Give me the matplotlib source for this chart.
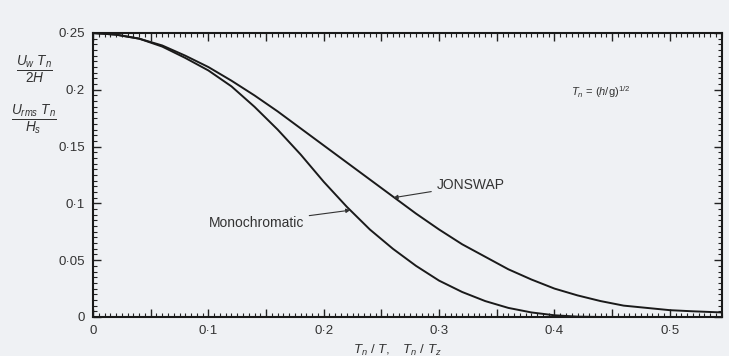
from matplotlib import pyplot as plt
from matplotlib.ticker import MultipleLocator, FuncFormatter

plt.rcParams['font.family'] = ['Liberation Sans', 'DejaVu Sans']
plt.rcParams['mathtext.fontset'] = 'custom'
plt.rcParams['mathtext.rm'] = 'Liberation Sans'
plt.rcParams['mathtext.it'] = 'Liberation Sans:italic'

# curves
mono_x = [0, 0.02, 0.04, 0.06, 0.08, 0.10, 0.12, 0.14, 0.16, 0.18, 0.20, 0.22,
          0.24, 0.26, 0.28, 0.30, 0.32, 0.34, 0.36, 0.38, 0.40, 0.42, 0.44, 0.545]
mono_y = [0.25, 0.2485, 0.245, 0.238, 0.228, 0.217, 0.203, 0.185, 0.165, 0.143,
          0.119, 0.097, 0.077, 0.060, 0.045, 0.032, 0.022, 0.014, 0.008, 0.004,
          0.0015, 0.0003, 0.0, 0.0]

jon_x = [0, 0.02, 0.04, 0.06, 0.08, 0.10, 0.12, 0.14, 0.16, 0.18, 0.20, 0.22,
         0.24, 0.26, 0.28, 0.30, 0.32, 0.34, 0.36, 0.38, 0.40, 0.42, 0.44, 0.46,
         0.48, 0.50, 0.52, 0.545]
jon_y = [0.25, 0.2485, 0.245, 0.239, 0.230, 0.220, 0.208, 0.195, 0.181, 0.166,
         0.151, 0.136, 0.121, 0.106, 0.091, 0.077, 0.064, 0.053, 0.042, 0.033,
         0.025, 0.019, 0.014, 0.010, 0.008, 0.006, 0.005, 0.004]

bg = '#eff1f4'
fig = plt.figure(figsize=(7.29, 3.56), dpi=100, facecolor=bg)
ax = fig.add_axes([0.1276, 0.1096, 0.8624, 0.7978], facecolor=bg)

ax.plot(mono_x, mono_y, color='#1a1a1a', lw=1.4)
ax.plot(jon_x, jon_y, color='#1a1a1a', lw=1.4)

ax.set_xlim(0, 0.545)
ax.set_ylim(0, 0.25)

# ticks on all four sides, pointing inward
ax.xaxis.set_major_locator(MultipleLocator(0.05))
ax.xaxis.set_minor_locator(MultipleLocator(0.005))
ax.yaxis.set_major_locator(MultipleLocator(0.05))
ax.yaxis.set_minor_locator(MultipleLocator(0.005))

def fmt_x(v, pos):
    if abs(v * 10 - round(v * 10)) > 1e-6:
        return ''
    return '0' if abs(v) < 1e-9 else ('%.1f' % v).replace('.', '\u00b7')

def fmt_y(v, pos):
    if abs(v) < 1e-9:
        return '0'
    s = ('%.2f' % v).rstrip('0')
    return s.replace('.', '\u00b7')

ax.xaxis.set_major_formatter(FuncFormatter(fmt_x))
ax.yaxis.set_major_formatter(FuncFormatter(fmt_y))
ax.tick_params(which='both', direction='in', top=True, right=True,
               color='#222222', labelsize=9.5, labelcolor='#333333')
ax.tick_params(which='major', length=6, width=1.0, pad=6)
ax.tick_params(which='minor', length=3, width=0.8)
for s in ax.spines.values():
    s.set_linewidth(1.5)
    s.set_color('#1a1a1a')

# stacked y-axis labels
fig.text(34 / 729, 1 - 70 / 356, r'$\frac{U_w\ T_n}{2H}$', ha='center', va='center',
         fontsize=14, color='#333333')
fig.text(34 / 729, 1 - 120 / 356, r'$\frac{U_{rms}\ T_n}{H_s}$', ha='center', va='center',
         fontsize=14, color='#333333')

# x label (cut off at the bottom in the scan)
fig.text(397 / 729, 1 - 350 / 356, r'$T_n\ /\ T,\ \ \ T_n\ /\ T_z$', ha='center',
         va='center', fontsize=9.5, color='#333333')

ax.text(0.44, 0.198, r'$T_n$ = ($h$/g)$^{1/2}$', fontsize=8, color='#333333',
        ha='center', va='center')

ax.annotate('JONSWAP', xy=(0.2605, 0.105), xytext=(0.298, 0.116),
            fontsize=10, color='#333333', va='center',
            arrowprops=dict(arrowstyle='-|>', color='#333333', lw=0.8,
                            mutation_scale=6, shrinkA=2, shrinkB=0))
ax.annotate('Monochromatic', xy=(0.223, 0.094), xytext=(0.10, 0.083),
            fontsize=10, color='#333333', va='center',
            arrowprops=dict(arrowstyle='-|>', color='#333333', lw=0.8,
                            mutation_scale=6, shrinkA=2, shrinkB=0))

plt.savefig('out.png', dpi=100, facecolor=bg)
